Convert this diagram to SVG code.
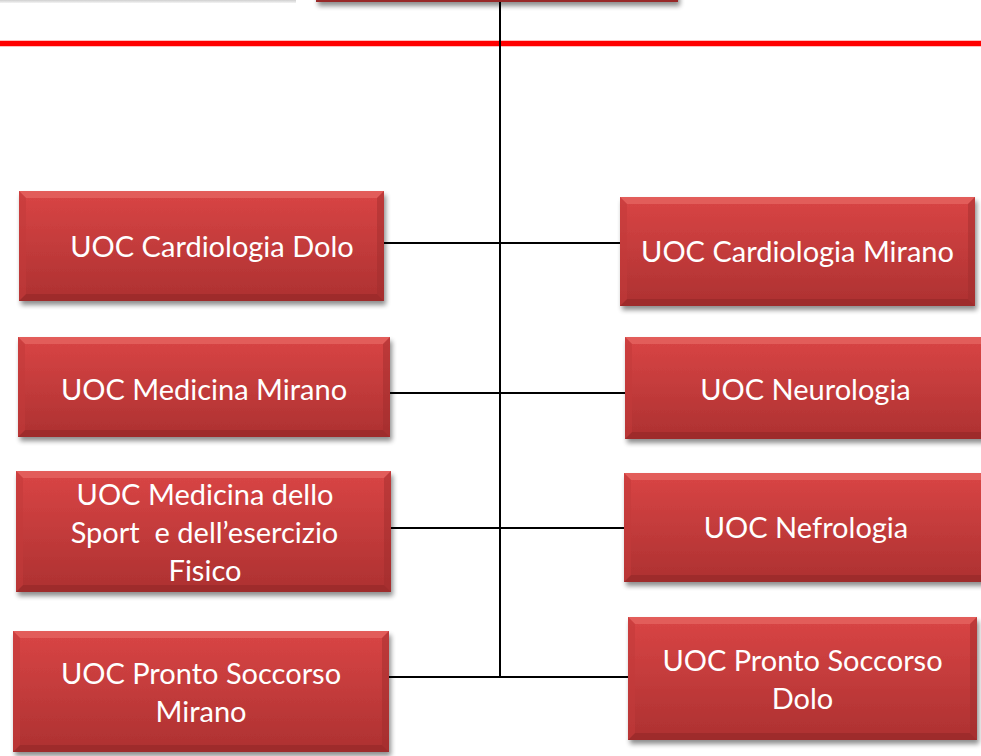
<svg xmlns="http://www.w3.org/2000/svg" width="981" height="756" viewBox="0 0 981 756">
<defs>
<linearGradient id="face" x1="0" y1="0" x2="0" y2="1">
<stop offset="0" stop-color="#d94545"/>
<stop offset="1" stop-color="#ad3131"/>
</linearGradient>
<linearGradient id="tls" x1="0" y1="0" x2="0" y2="1">
<stop offset="0" stop-color="#cfcfcf"/>
<stop offset="1" stop-color="#f4f4f4"/>
</linearGradient>
<filter id="sh" x="-10%" y="-10%" width="125%" height="135%">
<feGaussianBlur in="SourceAlpha" stdDeviation="2.5"/>
<feOffset dx="2" dy="4" result="b"/>
<feComponentTransfer><feFuncA type="linear" slope="0.45"/></feComponentTransfer>
<feMerge><feMergeNode/><feMergeNode in="SourceGraphic"/></feMerge>
</filter>
</defs>
<style>
.box{fill:url(#face);filter:url(#sh)}
.bt{fill:#e86a66;opacity:0.65}
.bb{fill:#8e2424;opacity:0.5}
.bl{fill:#c23a3a;opacity:0.55}
.br{fill:#9e2c2c;opacity:0.45}
.lbl{font-family:Lato,"Liberation Sans",sans-serif;font-size:29px;fill:#ffffff;text-anchor:middle;white-space:pre}
.con{stroke:#000;stroke-width:2;fill:none}
</style>
<rect width="981" height="756" fill="#ffffff"/>
<g id="top-left-shadow"><rect x="0" y="0" width="296" height="3" fill="url(#tls)"/></g>
<line x1="0" y1="43.5" x2="981" y2="43.5" stroke="#ff0000" stroke-width="5.5"/>
<g id="connectors">
<line class="con" x1="500" y1="0" x2="500" y2="677"/>
<line class="con" x1="384" y1="243" x2="620" y2="243"/>
<line class="con" x1="390" y1="393" x2="625" y2="393"/>
<line class="con" x1="391" y1="528" x2="624" y2="528"/>
<line class="con" x1="389" y1="677" x2="628" y2="677"/>
</g>
<g id="top-box">
<rect class="box" x="316" y="-60" width="362" height="62"/>
<rect x="316" y="-0.5" width="362" height="2.5" fill="#8e2424" opacity="0.7"/>
</g>
<g id="n1">
<rect class="box" x="19" y="191" width="365" height="110"/>
<polygon class="bt" points="19,191 384,191 377,198 26,198"/>
<polygon class="bb" points="19,301 384,301 377,294 26,294"/>
<polygon class="bl" points="19,191 26,198 26,294 19,301"/>
<polygon class="br" points="384,191 377,198 377,294 384,301"/>
<text class="lbl" x="212" y="257">UOC Cardiologia Dolo</text>
</g>
<g id="n2">
<rect class="box" x="620" y="197" width="355" height="109"/>
<polygon class="bt" points="620,197 975,197 968,204 627,204"/>
<polygon class="bb" points="620,306 975,306 968,299 627,299"/>
<polygon class="bl" points="620,197 627,204 627,299 620,306"/>
<polygon class="br" points="975,197 968,204 968,299 975,306"/>
<text class="lbl" x="797.5" y="262">UOC Cardiologia Mirano</text>
</g>
<g id="n3">
<rect class="box" x="18" y="337" width="372" height="100"/>
<polygon class="bt" points="18,337 390,337 383,344 25,344"/>
<polygon class="bb" points="18,437 390,437 383,430 25,430"/>
<polygon class="bl" points="18,337 25,344 25,430 18,437"/>
<polygon class="br" points="390,337 383,344 383,430 390,437"/>
<text class="lbl" x="204" y="400">UOC Medicina Mirano</text>
</g>
<g id="n4">
<rect class="box" x="625" y="337" width="365" height="102"/>
<polygon class="bt" points="625,337 990,337 983,344 632,344"/>
<polygon class="bb" points="625,439 990,439 983,432 632,432"/>
<polygon class="bl" points="625,337 632,344 632,432 625,439"/>
<text class="lbl" x="805.5" y="400">UOC Neurologia</text>
</g>
<g id="n5">
<rect class="box" x="16" y="471" width="375" height="121"/>
<polygon class="bt" points="16,471 391,471 384,478 23,478"/>
<polygon class="bb" points="16,592 391,592 384,585 23,585"/>
<polygon class="bl" points="16,471 23,478 23,585 16,592"/>
<polygon class="br" points="391,471 384,478 384,585 391,592"/>
<text class="lbl" x="205" y="505">UOC Medicina dello</text>
<text class="lbl" x="204.5" y="543">Sport  e dell’esercizio</text>
<text class="lbl" x="205" y="581">Fisico</text>
</g>
<g id="n6">
<rect class="box" x="624" y="473" width="366" height="109"/>
<polygon class="bt" points="624,473 990,473 983,480 631,480"/>
<polygon class="bb" points="624,582 990,582 983,575 631,575"/>
<polygon class="bl" points="624,473 631,480 631,575 624,582"/>
<text class="lbl" x="806" y="538">UOC Nefrologia</text>
</g>
<g id="n7">
<rect class="box" x="13" y="631" width="376" height="121"/>
<polygon class="bt" points="13,631 389,631 382,638 20,638"/>
<polygon class="bb" points="13,752 389,752 382,745 20,745"/>
<polygon class="bl" points="13,631 20,638 20,745 13,752"/>
<polygon class="br" points="389,631 382,638 382,745 389,752"/>
<text class="lbl" x="201" y="684">UOC Pronto Soccorso</text>
<text class="lbl" x="201" y="722">Mirano</text>
</g>
<g id="n8">
<rect class="box" x="628" y="617" width="349" height="123"/>
<polygon class="bt" points="628,617 977,617 970,624 635,624"/>
<polygon class="bb" points="628,740 977,740 970,733 635,733"/>
<polygon class="bl" points="628,617 635,624 635,733 628,740"/>
<polygon class="br" points="977,617 970,624 970,733 977,740"/>
<text class="lbl" x="802.5" y="671">UOC Pronto Soccorso</text>
<text class="lbl" x="802.5" y="709">Dolo</text>
</g>
</svg>
